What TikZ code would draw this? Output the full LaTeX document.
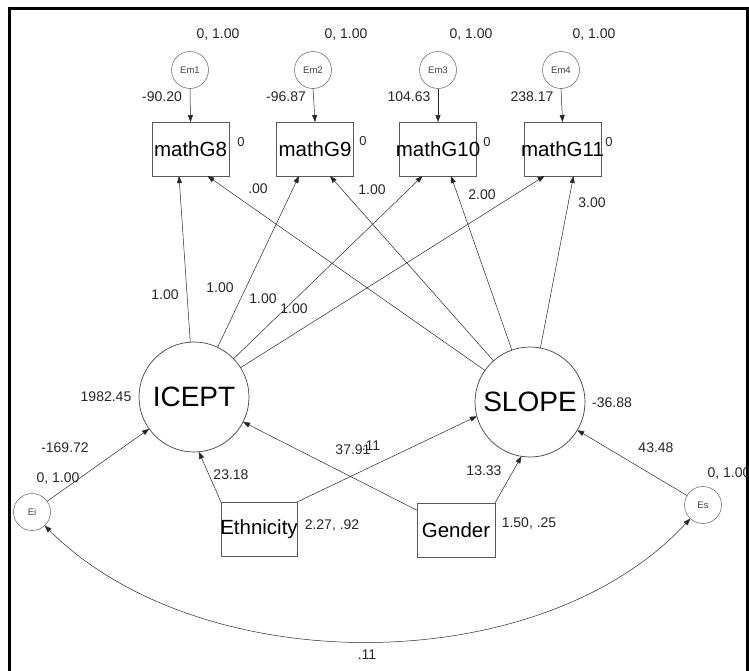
\documentclass[tikz,border=0pt]{standalone}
\usepackage{fontspec}
\setmainfont{Liberation Sans}
\usetikzlibrary{arrows.meta}
\begin{document}
\begin{tikzpicture}[x=1pt,y=-1pt,
  every node/.style={inner sep=0pt, outer sep=0pt},
  obs/.style={draw=black!65, line width=0.7pt, minimum width=77pt, minimum height=54pt, font=\fontsize{20.5}{22}\selectfont},
  lat/.style={draw=black!75, circle, line width=0.7pt, minimum size=110pt, font=\fontsize{28}{30}\selectfont},
  err/.style={draw=black!55, circle, line width=0.6pt, minimum size=37pt, font=\fontsize{9.5}{10}\selectfont, text=black!75},
  lbl/.style={font=\fontsize{14}{16}\selectfont, text=black!85},
  zlbl/.style={font=\fontsize{13}{15}\selectfont, text=black!85},
  arr/.style={-{Triangle[length=7pt,width=5pt]}, line width=0.5pt, draw=black!85},
  darr/.style={{Triangle[length=7pt,width=5pt]}-{Triangle[length=7pt,width=5pt]}, line width=0.5pt, draw=black!85},
]
\useasboundingbox (0,0) rectangle (749,670);
% frame
\draw[line width=3pt] (9.5,675) -- (9.5,8.5) -- (747.5,8.5) -- (747.5,675);

% error terms of indicators
\node[err] (Em1) at (190,70) {Em1};
\node[err] (Em2) at (313,70) {Em2};
\node[err] (Em3) at (438,70) {Em3};
\node[err] (Em4) at (561,70) {Em4};

% observed
\node[obs] (G8) at (190.5,149) {\makebox[0pt]{mathG8}};
\node[obs] (G9) at (315,149) {\makebox[0pt]{mathG9}};
\node[obs] (G10) at (438,149) {\makebox[0pt]{mathG10}};
\node[obs] (G11) at (562.5,149) {\makebox[0pt]{mathG11}};

% latent
\node[lat] (ICEPT) at (194,397) {ICEPT};
\node[lat] (SLOPE) at (530,402) {SLOPE};

% disturbances
\node[err] (Ei) at (32,512) {Ei};
\node[err] (Es) at (703,505) {Es};

% covariates
\node[obs, minimum width=76pt] (Eth) at (259,529) {\makebox[0pt]{Ethnicity}};
\node[obs, minimum width=78pt] (Gen) at (456,530) {\makebox[0pt]{Gender}};

% indicator error paths
\draw[arr] (Em1.south) -- (G8.north);
\draw[arr] (Em2.south) -- (G9.north);
\draw[arr] (Em3.south) -- (G10.north);
\draw[arr] (Em4.south) -- (G11.north);

% ICEPT loadings
\draw[arr] (ICEPT) -- ([xshift=-11.5pt]G8.south);
\draw[arr] (ICEPT) -- ([xshift=-16pt]G9.south);
\draw[arr] (ICEPT) -- ([xshift=-15.5pt]G10.south);
\draw[arr] (ICEPT) -- ([xshift=-18pt]G11.south);

% SLOPE loadings
\draw[arr] (SLOPE) -- ([xshift=17pt]G8.south);
\draw[arr] (SLOPE) -- ([xshift=15pt]G9.south);
\draw[arr] (SLOPE) -- ([xshift=13pt]G10.south);
\draw[arr] (SLOPE) -- ([xshift=11pt]G11.south);

% structural paths
\draw[arr] (Ei) -- (ICEPT);
\draw[arr] (Eth.north west) -- (ICEPT.275);
\draw[arr] (Eth.north east) -- (SLOPE.195);
\draw[arr] (Gen) -- (ICEPT);
\draw[arr] (Gen.north east) -- (SLOPE.261);
\draw[arr] (Es) -- (SLOPE);

% covariance of disturbances
\draw[darr] (Ei.313) .. controls (200,681) and (540,681) .. (Es.227);

% labels: variances of Em
\node[lbl] (v1) at (218,35) {0, 1.00};
\node[lbl] (v2) at (346,35) {0, 1.00};
\node[lbl] (v3) at (471,35) {0, 1.00};
\node[lbl] (v4) at (594,35) {0, 1.00};
\node[lbl] (e1) at (162,97) {-90.20};
\node[lbl] (e2) at (286,97) {-96.87};
\node[lbl] (e3) at (409,97) {104.63};
\node[lbl] (e4) at (532,97) {238.17};
\node[zlbl] (z1) at (241,142) {0};
\node[zlbl] (z2) at (363,141) {0};
\node[zlbl] (z3) at (487,142) {0};
\node[zlbl] (z4) at (609,142) {0};
% slope loadings
\node[lbl] (s1) at (258,189) {.00};
\node[lbl] (s2) at (372,190) {1.00};
\node[lbl] (s3) at (482,195) {2.00};
\node[lbl] (s4) at (592,203) {3.00};
% icept loadings
\node[lbl] (i1) at (165,295) {1.00};
\node[lbl] (i2) at (220,288) {1.00};
\node[lbl] (i3) at (263,299) {1.00};
\node[lbl] (i4) at (294,309) {1.00};
% latent
\node[lbl] (mi) at (106,397) {1982.45};
\node[lbl] (ms) at (612,403) {-36.88};
\node[lbl] (pe) at (65,448) {-169.72};
\node[lbl] (vei) at (58,478) {0, 1.00};
\node[lbl] (p1) at (231,475) {23.18};
\node[lbl] (p2) at (353,450) {37.91};
\node[lbl] (p3) at (371,446) {.11};
\node[lbl] (p4) at (484,471) {13.33};
\node[lbl] (p5) at (656,448) {43.48};
\node[lbl] (ves) at (729,473) {0, 1.00};
\node[lbl] (me) at (332,525) {2.27, .92};
\node[lbl] (mg) at (529,523) {1.50, .25};
\node[lbl] (cv) at (367,655) {.11};
\end{tikzpicture}
\end{document}
